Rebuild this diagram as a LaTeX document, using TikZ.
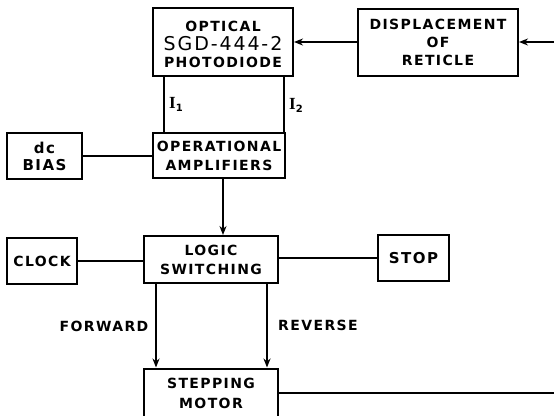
\documentclass[tikz,border=0pt]{standalone}
\usepackage{fontspec}
\setmainfont{DejaVu Sans}
\newfontfamily\boxfont[LetterSpace=10]{DejaVu Sans Bold}
\newfontfamily\partfont[LetterSpace=10]{DejaVu Sans}
\newfontfamily\serifb{Liberation Serif Bold}
\usetikzlibrary{arrows.meta}
\newcommand{\lowered}[2]{\raisebox{-#1}[\height][\depth]{\begin{tabular}{@{}c@{}}#2\end{tabular}}}
\begin{document}
\begin{tikzpicture}[x=1pt,y=-1pt,
  blk/.style={draw,line width=2pt,rectangle,inner sep=0pt,align=center,
    font=\boxfont\fontsize{14}{19}\selectfont},
  wire/.style={line width=2pt},
  arr/.style={line width=2pt,-{Stealth[length=9pt,width=7pt]}},
  lbl/.style={font=\boxfont\fontsize{14}{14}\selectfont,inner sep=0pt},
  sub/.style={inner sep=0pt,font=\serifb\fontsize{17}{17}\selectfont}]
\useasboundingbox (0,0) rectangle (554,415);
\node[blk,align=none,minimum width=140pt,minimum height=68pt,font=\boxfont\fontsize{14}{17.5}\selectfont] (opt) at (223,42)
  {\lowered{4pt}{OPTICAL\\{\partfont\fontsize{19}{17.5}\selectfont SGD-444-2}\\PHOTODIODE}};
\node[blk,minimum width=160pt,minimum height=67pt,font=\boxfont\fontsize{14}{18}\selectfont] (disp) at (438,42) {DISPLACEMENT\\OF\\RETICLE};
\node[blk,minimum width=132pt,minimum height=45pt] (opamp) at (219,155.5) {OPERATIONAL\\AMPLIFIERS};
\node[blk,align=none,minimum width=75pt,minimum height=46pt,font=\boxfont\fontsize{15}{17}\selectfont] (bias) at (44.5,156) {\lowered{2.5pt}{dc\\BIAS}};
\node[blk,minimum width=134pt,minimum height=47pt] (logic) at (211,259.5) {LOGIC\\SWITCHING};
\node[blk,minimum width=70pt,minimum height=46pt] (clock) at (42,261) {CLOCK};
\node[blk,minimum width=71pt,minimum height=46pt,font=\boxfont\fontsize{15}{19}\selectfont] (stop) at (413.5,258) {STOP};
\node[blk,minimum width=134pt,minimum height=50pt,font=\boxfont\fontsize{14}{20}\selectfont] (motor) at (211,393.5) {STEPPING\\MOTOR};
\coordinate (inR) at (556,42);
\coordinate (outR) at (556,393);
% connectors
\draw[arr] (inR) -- (disp.east);
\draw[arr] (disp.west) -- (opt.east);
\draw[wire] ([xshift=12pt]opt.south west) -- ([xshift=12pt]opt.south west |- opamp.north);
\draw[wire] ([xshift=-10pt]opt.south east) -- ([xshift=-10pt]opt.south east |- opamp.north);
\draw[wire] (bias.east) -- (opamp.west |- bias.east);
\draw[arr] ([xshift=4pt]opamp.south) -- ([xshift=4pt]opamp.south |- logic.north);
\draw[wire] (clock.east) -- (logic.west |- clock.east);
\draw[wire] (logic.east |- stop.west) -- (stop.west);
\draw[arr] ([xshift=-55pt]logic.south) -- ([xshift=-55pt]logic.south |- motor.north);
\draw[arr] ([xshift=56pt]logic.south) -- ([xshift=56pt]logic.south |- motor.north);
\draw[wire] (motor.east |- outR) -- (outR);
% labels
\node[sub] (i1) at (176,104) {I\raisebox{-3pt}{\boxfont\fontsize{10}{10}\selectfont 1}};
\node[sub] (i2) at (296,105) {I\raisebox{-3pt}{\boxfont\fontsize{10}{10}\selectfont 2}};
\node[lbl] (fwd) at (104,326) {FORWARD};
\node[lbl] (rev) at (318,325) {REVERSE};
\end{tikzpicture}
\end{document}
